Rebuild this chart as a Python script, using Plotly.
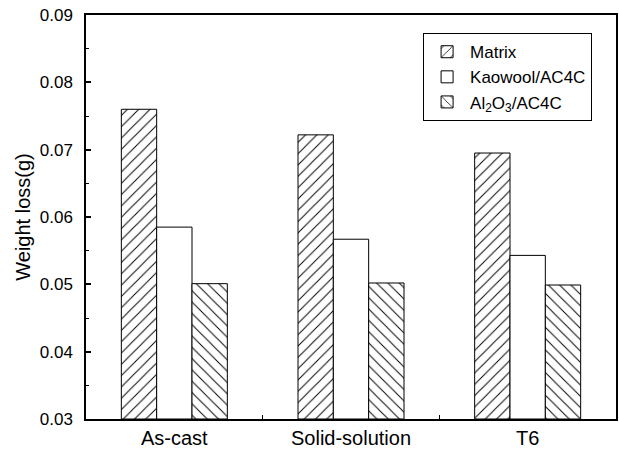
import plotly.graph_objects as go

# Heat-treatment conditions and measured weight loss (g)
conditions = ["As-cast", "Solid-solution", "T6"]
matrix = [0.0760, 0.0722, 0.0695]
kaowool = [0.0585, 0.0567, 0.0543]
al2o3 = [0.0501, 0.0502, 0.0499]
y_ticks = [0.03, 0.04, 0.05, 0.06, 0.07, 0.08, 0.09]

x_pos = list(range(len(conditions)))
font = "Liberation Sans, Arial, sans-serif"

fig = go.Figure()
series = [
    ("Matrix", matrix, "/"),
    ("Kaowool/AC4C", kaowool, ""),
    ("Al<sub>2</sub>O<sub>3</sub>/AC4C", al2o3, "\\"),
]
for name, vals, shape in series:
    fig.add_bar(
        x=x_pos,
        y=[v - 0.03 for v in vals],
        base=0.03,
        name=name,
        marker=dict(
            color="white",
            line=dict(color="black", width=1),
            pattern=dict(shape=shape, fgcolor="black", bgcolor="white",
                         size=8, solidity=0.12, fillmode="replace"),
        ),
    )

fig.update_layout(
    width=619,
    height=450,
    margin=dict(l=86, r=1, t=15, b=31),
    paper_bgcolor="white",
    plot_bgcolor="white",
    barmode="group",
    bargap=0.4,
    bargroupgap=0,
    font=dict(family=font, size=17, color="black"),
    legend=dict(
        x=0.636, y=0.955, xanchor="left", yanchor="top",
        bordercolor="black", borderwidth=1, bgcolor="white",
        font=dict(size=17), tracegroupgap=0, itemwidth=36,
    ),
    xaxis=dict(
        range=[-0.5, 2.5],
        tickmode="array",
        tickvals=x_pos,
        ticktext=conditions,
        ticks="",
        tickfont=dict(size=20),
        showline=True, linecolor="black", linewidth=1.5, mirror=True,
        showgrid=False, zeroline=False,
        minor=dict(tickmode="array", tickvals=[0.5, 1.5], ticks="inside",
                   ticklen=4, tickcolor="black", tickwidth=1),
    ),
    yaxis=dict(
        range=[0.03, 0.09],
        tickmode="array",
        tickvals=y_ticks,
        tickformat=".2f",
        tickfont=dict(size=17),
        ticklabelstandoff=8,
        ticks="inside", ticklen=5, tickwidth=1.5, tickcolor="black",
        showline=True, linecolor="black", linewidth=1.5, mirror=True,
        showgrid=False, zeroline=False,
        title=dict(text="Weight loss(g)", font=dict(size=20), standoff=4),
        minor=dict(dtick=0.005, tick0=0.03, ticks="inside", ticklen=3,
                   tickcolor="black", tickwidth=1),
    ),
)

fig.write_html("out.html")
